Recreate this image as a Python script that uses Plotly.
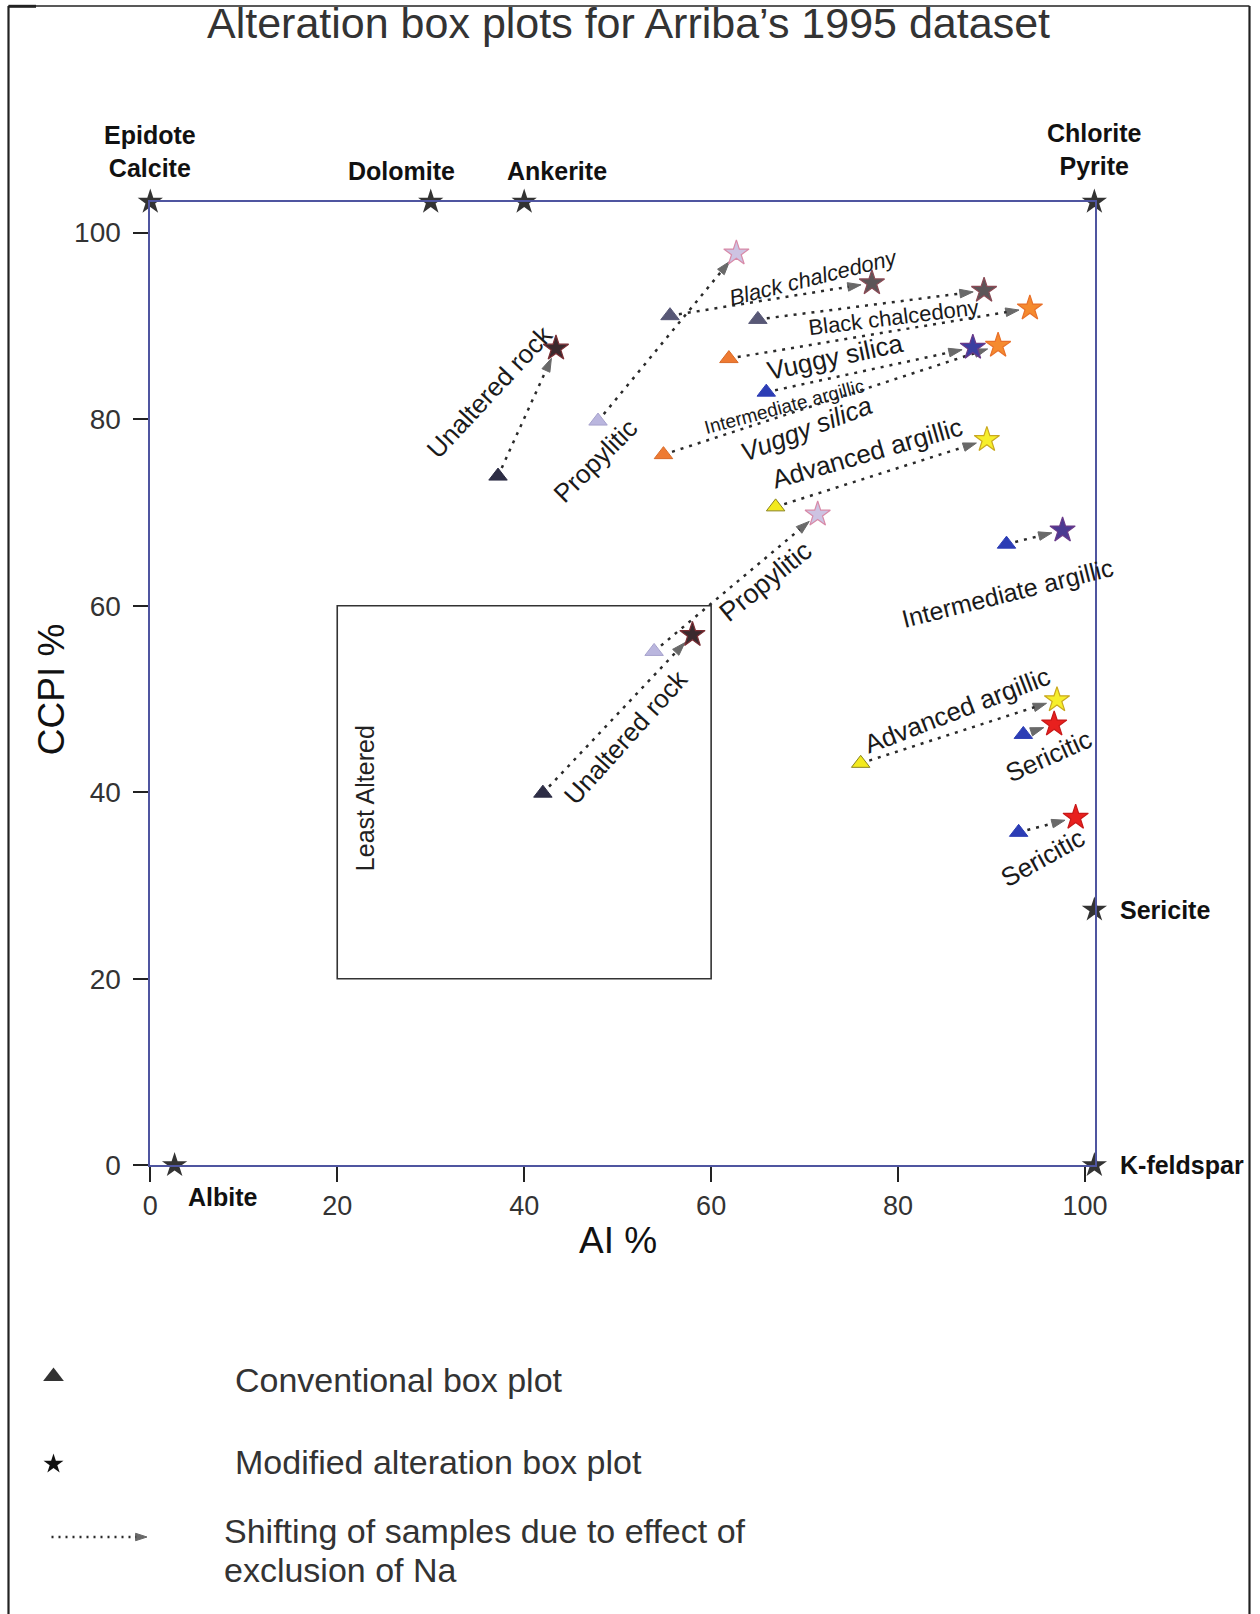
import math
import plotly.graph_objects as go

# ---------------- data ----------------
groups = ["Unaltered rock", "Propylitic", "Black chalcedony", "Black chalcedony",
          "Vuggy silica", "Intermediate argillic", "Vuggy silica", "Advanced argillic",
          "Propylitic", "Unaltered rock", "Intermediate argillic", "Advanced argillic",
          "Sericitic", "Sericitic"]
# conventional box plot (triangles)
conv_ai = [37.2, 47.9, 55.6, 65.0, 61.9, 65.9, 54.9, 66.9, 53.9, 42.0, 91.6, 76.0, 93.4, 92.9]
conv_ccpi = [73.9, 79.8, 91.1, 90.7, 86.5, 82.9, 76.2, 70.6, 55.1, 39.9, 66.6, 43.1, 46.2, 35.7]
# modified alteration box plot (stars)
mod_ai = [43.4, 62.7, 77.2, 89.2, 94.1, 88.0, 90.7, 89.5, 71.4, 58.0, 97.6, 97.0, 96.7, 99.0]
mod_ccpi = [87.6, 97.8, 94.6, 93.8, 91.9, 87.7, 87.9, 77.8, 69.8, 56.9, 68.1, 49.9, 47.3, 37.3]

minerals = ["Epidote<br>Calcite", "Dolomite", "Ankerite", "Chlorite<br>Pyrite",
            "Sericite", "K-feldspar", "Albite"]
mineral_ai = [0, 30, 40, 101, 101, 101, 2.6]
mineral_ccpi = [103.3, 103.3, 103.3, 103.3, 27.4, 0, 0]

least_altered_ai = [20, 60]
least_altered_ccpi = [20, 60]

tick_vals = [0, 20, 40, 60, 80, 100]
tick_text = ["0", "20", "40", "60", "80", "100"]

# ---------------- styles ----------------
tri_fill = ["#2d2d45", "#bab6de", "#585876", "#585876", "#ee7a32", "#2c3db5", "#ee7a32",
            "#f3ea1e", "#bab6de", "#2d2d45", "#2c3db5", "#f3ea1e", "#2c3db5", "#2c3db5"]
tri_line = ["#2d2d45", "#a6a2cc", "#585876", "#585876", "#d86a28", "#2c3db5", "#d86a28",
            "#8a8420", "#a6a2cc", "#2d2d45", "#2c3db5", "#8a8420", "#2c3db5", "#2c3db5"]
star_fill = ["#3a2a2e", "#cdc3e2", "#5c5558", "#5c5558", "#f58a2e", "#3b3fa0", "#f58a2e",
             "#f7ef2a", "#cdc3e2", "#3a2a2e", "#4b3a92", "#f7ef2a", "#e8201e", "#e8201e"]
star_line = ["#7a2e34", "#d88aa8", "#8a4a55", "#8a4a55", "#e8702a", "#6a3a8a", "#e8702a",
             "#c9a820", "#d88aa8", "#7a2e34", "#6a3a8a", "#c9a820", "#c81818", "#c81818"]

W, H = 1260, 1614
X_LEFT, X_RIGHT = 150.3, 1095.3
Y_TOP, Y_BOTTOM = 201.9, 1165.3
X_RANGE = [0, 101.1]
Y_RANGE = [0, 103.3]
sx = (X_RIGHT - X_LEFT) / (X_RANGE[1] - X_RANGE[0])
sy = (Y_BOTTOM - Y_TOP) / (Y_RANGE[1] - Y_RANGE[0])

FONT = "Liberation Sans, Arial, Helvetica, sans-serif"
FRAME = "#4f55a0"
ARROW = "#2a2a2a"


def px(X):
    return X / W


def py(Y):
    return 1 - Y / H


fig = go.Figure()

# dotted shift arrows (triangle -> star)
for i in range(len(groups)):
    x0, y0 = conv_ai[i], conv_ccpi[i]
    x1, y1 = mod_ai[i], mod_ccpi[i]
    dxp, dyp = (x1 - x0) * sx, (y1 - y0) * sy
    d = math.hypot(dxp, dyp)
    back = 11.0
    xe = x1 - dxp / d * back / sx
    ye = y1 - dyp / d * back / sy
    fig.add_trace(go.Scatter(
        x=[x0, xe], y=[y0, ye], mode="lines+markers",
        line=dict(color=ARROW, width=2.5, dash="3px,6px"),
        marker=dict(symbol="arrow", size=[0, 14], angleref="previous", color=ARROW,
                    line=dict(color=ARROW, width=1)),
        hoverinfo="skip", showlegend=False, cliponaxis=False))

# conventional box plot triangles
fig.add_trace(go.Scatter(
    x=conv_ai, y=conv_ccpi, mode="markers", text=groups,
    marker=dict(symbol="triangle-up", size=16, color=tri_fill,
                line=dict(color=tri_line, width=1)),
    showlegend=False, cliponaxis=False))

# modified alteration box plot stars
fig.add_trace(go.Scatter(
    x=mod_ai, y=mod_ccpi, mode="markers", text=groups,
    marker=dict(symbol="star", size=19, color=star_fill,
                line=dict(color=star_line, width=1.2)),
    showlegend=False, cliponaxis=False))

# mineral end-member stars
fig.add_trace(go.Scatter(
    x=mineral_ai, y=mineral_ccpi, mode="markers", text=minerals,
    marker=dict(symbol="star", size=19, color="#333333"),
    showlegend=False, cliponaxis=False))

# least altered box
fig.add_shape(type="rect", xref="x", yref="y",
              x0=least_altered_ai[0], x1=least_altered_ai[1],
              y0=least_altered_ccpi[0], y1=least_altered_ccpi[1],
              line=dict(color="#333333", width=1.6))

annotations = []

# mineral labels (placed relative to their stars)
mineral_place = [
    dict(xanchor="center", xshift=0, yshift=50),
    dict(xanchor="center", xshift=-29, yshift=31),
    dict(xanchor="center", xshift=33, yshift=31),
    dict(xanchor="center", xshift=0, yshift=52),
    dict(xanchor="left", xshift=24, yshift=0),
    dict(xanchor="left", xshift=24, yshift=0),
    dict(xanchor="left", xshift=11, yshift=-32),
]
for name, xa, yc, pl in zip(minerals, mineral_ai, mineral_ccpi, mineral_place):
    annotations.append(dict(
        x=xa, y=yc, xref="x", yref="y", text="<b>" + name + "</b>", showarrow=False,
        xanchor=pl["xanchor"], yanchor="middle", xshift=pl["xshift"], yshift=pl["yshift"],
        font=dict(family=FONT, size=25, color="#111111")))

# zone labels along the shift arrows (layout: position, angle, size, italic)
label_place = [
    (36.3, 82.9, -47, 26, False),
    (47.6, 75.5, -45, 26, False),
    (71.0, 95.2, -14, 22, True),
    (79.5, 90.9, -7, 22, False),
    (73.2, 86.7, -12, 26, False),
    (67.9, 81.4, -15, 19, False),
    (70.1, 79.0, -21, 26, True),
    (76.7, 76.4, -16, 26, False),
    (65.9, 62.6, -39, 27, False),
    (50.9, 45.9, -48, 26, False),
    (91.7, 61.4, -14, 25, False),
    (86.4, 48.8, -21, 26, False),
    (96.1, 43.9, -24, 26, False),
    (95.4, 33.0, -29, 26, False),
]
for g, (lx, ly, ang, sz, it) in zip(groups, label_place):
    txt = "<i>" + g + "</i>" if it else g
    annotations.append(dict(
        x=lx, y=ly, xref="x", yref="y", text=txt, showarrow=False, textangle=ang,
        xanchor="center", yanchor="middle",
        font=dict(family=FONT, size=sz, color="#1a1a1a")))

annotations.append(dict(
    x=23.0, y=39.4, xref="x", yref="y", text="Least Altered", showarrow=False,
    textangle=-90, xanchor="center", yanchor="middle",
    font=dict(family=FONT, size=25, color="#222222")))

# title and axis titles
annotations.append(dict(
    x=px(628), y=py(23), xref="paper", yref="paper",
    text="Alteration box plots for Arriba\u2019s 1995 dataset", showarrow=False,
    xanchor="center", yanchor="middle", font=dict(family=FONT, size=43, color="#333333")))
annotations.append(dict(
    x=px(617.7), y=py(1240.5), xref="paper", yref="paper", text="AI %", showarrow=False,
    xanchor="center", yanchor="middle", font=dict(family=FONT, size=37, color="#111111")))
annotations.append(dict(
    x=px(51.5), y=py(689.7), xref="paper", yref="paper", text="CCPI %", showarrow=False,
    textangle=-90, xanchor="center", yanchor="middle",
    font=dict(family=FONT, size=37, color="#111111")))

# legend (drawn on an overlay pixel axis)
fig.add_trace(go.Scatter(
    x=[53.5], y=[1376.5], xaxis="x2", yaxis="y2", mode="markers",
    marker=dict(symbol="triangle-up", size=18, color="#333333"),
    showlegend=False, hoverinfo="skip", cliponaxis=False))
fig.add_trace(go.Scatter(
    x=[53.5], y=[1464], xaxis="x2", yaxis="y2", mode="markers",
    marker=dict(symbol="star", size=15, color="#111111"),
    showlegend=False, hoverinfo="skip", cliponaxis=False))
fig.add_trace(go.Scatter(
    x=[51.5, 147], y=[1537, 1537], xaxis="x2", yaxis="y2", mode="lines+markers",
    line=dict(color=ARROW, width=2.4, dash="2px,5px"),
    marker=dict(symbol="arrow", size=[0, 12], angleref="previous", color=ARROW,
                line=dict(color=ARROW, width=1)),
    showlegend=False, hoverinfo="skip", cliponaxis=False))

legend_texts = [("Conventional box plot", 232.7, 1379.5),
                ("Modified alteration box plot", 232.7, 1462),
                ("Shifting of samples due to effect of", 222.4, 1531),
                ("exclusion of Na", 222.4, 1570)]
for t, lx, ly in legend_texts:
    annotations.append(dict(
        x=px(lx), y=py(ly), xref="paper", yref="paper", text=t, showarrow=False,
        xanchor="left", yanchor="middle", font=dict(family=FONT, size=34, color="#333333")))

# outer border of the picture
shapes = [
    dict(type="line", xref="paper", yref="paper", x0=px(8.5), x1=px(8.5), y0=py(6), y1=0,
         line=dict(color="#222222", width=2.2)),
    dict(type="line", xref="paper", yref="paper", x0=px(8.5), x1=px(1249.5), y0=py(6), y1=py(6),
         line=dict(color="#222222", width=1.3)),
    dict(type="line", xref="paper", yref="paper", x0=px(8.5), x1=px(36), y0=py(6.3), y1=py(6.3),
         line=dict(color="#222222", width=3)),
    dict(type="line", xref="paper", yref="paper", x0=px(1249.5), x1=px(1249.5), y0=py(6), y1=0,
         line=dict(color="#222222", width=2.2)),
]
for s in shapes:
    fig.add_shape(**s)

axis_common = dict(showgrid=False, zeroline=False, automargin=False,
                   showline=True, linecolor=FRAME, linewidth=1.8, mirror=True,
                   ticks="outside", ticklen=15, tickwidth=1.5, tickcolor="#222222",
                   tickvals=tick_vals, ticktext=tick_text)

fig.update_layout(
    template="none",
    width=W, height=H,
    margin=dict(l=0, r=0, t=0, b=0, pad=0),
    paper_bgcolor="white", plot_bgcolor="rgba(0,0,0,0)",
    showlegend=False,
    xaxis=dict(domain=[X_LEFT / W, X_RIGHT / W], range=X_RANGE,
               tickfont=dict(family=FONT, size=27, color="#333333"),
               ticklabelstandoff=0, **axis_common),
    yaxis=dict(domain=[1 - Y_BOTTOM / H, 1 - Y_TOP / H], range=Y_RANGE,
               tickfont=dict(family=FONT, size=28, color="#333333"),
               ticklabelstandoff=7, **axis_common),
    xaxis2=dict(domain=[0, 1], range=[0, W], visible=False, anchor="y2", fixedrange=True),
    yaxis2=dict(domain=[0, 1], range=[H, 0], visible=False, anchor="x2", fixedrange=True),
    annotations=annotations,
)

fig.write_html("out.html")
